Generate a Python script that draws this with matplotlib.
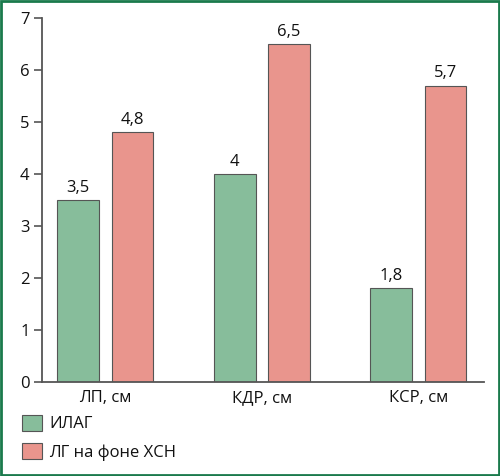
import matplotlib
matplotlib.use("Agg")
import matplotlib.pyplot as plt
from matplotlib.patches import Rectangle, Patch
import numpy as np

plt.rcParams['font.family'] = ['Open Sans', 'DejaVu Sans']
plt.rcParams['font.weight'] = 'medium'

categories = ["ЛП, см", "КДР, см", "КСР, см"]
series_names = ["ИЛАГ", "ЛГ на фоне ХСН"]
ilag = [3.5, 4.0, 1.8]
lg_hsn = [4.8, 6.5, 5.7]
yticks = [0, 1, 2, 3, 4, 5, 6, 7]

green = "#87bd9b"
pink = "#e9958d"
edge = "#555555"
fs = 12

fig = plt.figure(figsize=(5.0, 4.76), dpi=100)
ax = fig.add_axes([0.084, 0.1975, 0.884, 0.7647])

x = np.arange(len(categories))
w = 0.266
off = 0.173
b1 = ax.bar(x - off, ilag, w, color=green, edgecolor=edge, linewidth=0.8)
b2 = ax.bar(x + off, lg_hsn, w, color=pink, edgecolor=edge, linewidth=0.8)

for bars, vals in ((b1, ilag), (b2, lg_hsn)):
    for r, v in zip(bars, vals):
        ax.annotate(f"{v:g}".replace('.', ','), (r.get_x() + r.get_width() / 2, v),
                    xytext=(0, 3), textcoords="offset points",
                    ha="center", va="bottom", fontsize=fs, color="#111111")

ax.set_xlim(-0.405, 2.42)
ax.set_ylim(0, 7)
ax.set_yticks(yticks)
ax.set_yticklabels([str(t) for t in yticks])
ax.set_xticks(x)
ax.set_xticklabels(categories)
ax.tick_params(axis='y', direction='out', length=6, width=1.2, color=edge, labelsize=fs, pad=3,
               labelcolor="#111111")
ax.tick_params(axis='x', length=0, labelsize=fs, pad=6, labelcolor="#111111")
for s in ("top", "right"):
    ax.spines[s].set_visible(False)
for s in ("left", "bottom"):
    ax.spines[s].set_color(edge)
    ax.spines[s].set_linewidth(1.3)

handles = [Patch(facecolor=green, edgecolor=edge, linewidth=0.8),
           Patch(facecolor=pink, edgecolor=edge, linewidth=0.8)]
fig.legend(handles, series_names, loc="upper left", bbox_to_anchor=(0.044, 0.129),
           frameon=False, fontsize=fs, handlelength=1.2, handleheight=1.1,
           handletextpad=0.45, labelspacing=0.65, borderaxespad=0, borderpad=0,
           labelcolor="#111111")

fig.patches.append(Rectangle((0.002, 0.002), 0.996, 0.996, transform=fig.transFigure,
                             fill=False, edgecolor="#1a7a4c", linewidth=2.0))

fig.savefig("out.png", dpi=100)
